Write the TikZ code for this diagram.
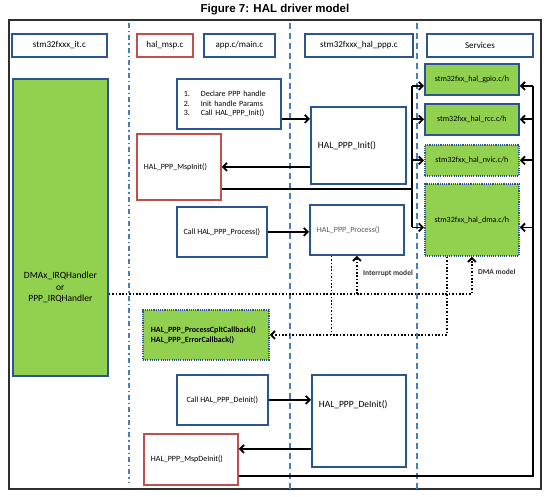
\documentclass[tikz,border=0pt]{standalone}
\usepackage{fontspec}
\setmainfont{Carlito}
\newfontfamily\titlefont{Liberation Sans}
\usetikzlibrary{arrows.meta,calc}
\definecolor{grn}{HTML}{92D050}
\definecolor{bblue}{HTML}{2A5592}
\definecolor{rred}{HTML}{C0504D}
\definecolor{lblue}{HTML}{4A7EBB}
\definecolor{framec}{HTML}{303030}
\begin{document}
\begin{tikzpicture}[x=1pt,y=-1pt,
 box/.style={draw=bblue,line width=1.8pt,anchor=north west,inner sep=0pt,align=center,font=\fontsize{8}{9.7}\selectfont},
 hdr/.style={box,minimum height=23pt,font=\fontsize{9}{10}\selectfont},
 redbox/.style={box,draw=rred},
 gbox/.style={box,fill=grn},
 gdot/.style={gbox,dash pattern=on 1.1pt off 1.1pt},
 lt/.style={align=left,inner xsep=7pt},
 arr/.style={line width=1.8pt,-{Straight Barb[length=4pt,width=8pt]}},
 ln/.style={line width=1.8pt},
 dotl/.style={line width=1.8pt,dash pattern=on 1.6pt off 1.8pt},
 dotarr/.style={dotl,-{Straight Barb[length=4pt,width=8pt]}},
 lane/.style={draw=lblue,line width=1.7pt,dash pattern=on 6pt off 4pt},
 lanedd/.style={draw=lblue,line width=1.7pt,dash pattern=on 5pt off 3pt on 1.4pt off 3pt},
 lbl/.style={font=\fontsize{7.5}{9}\selectfont\bfseries,text=black!80,inner sep=0pt}
]
\useasboundingbox (0,0) rectangle (554,497);
\node[font=\titlefont\bfseries\fontsize{11.5}{13}\selectfont] (title) at (275,10) {Figure 7: HAL driver model};
\draw[framec,line width=1.4pt] (9,20) rectangle (541,489);
% swim lanes
\draw[lanedd] (129,23) -- (129,482);
\draw[lane] (290,23) -- (290,489);
\draw[lane] (417,23) -- (417,489);
% headers
\node[hdr,minimum width=95pt] (hit) at (11,33) {stm32fxxx\_it.c};
\node[hdr,draw=rred,minimum width=56pt] (hmsp) at (136,33) {hal\_msp.c};
\node[hdr,minimum width=71pt] (happ) at (203,33) {app.c/main.c};
\node[hdr,minimum width=108pt] (hppp) at (304,33) {stm32fxxx\_hal\_ppp.c};
\node[hdr,minimum width=106pt] (hsrv) at (426,33) {Services};
% big IRQ box
\node[gbox,minimum width=95pt,minimum height=297pt,
  label={[font=\fontsize{9.5}{11.5}\selectfont,align=center,yshift=-60pt]center:DMAx\_IRQHandler\\or\\PPP\_IRQHandler}] (irq) at (12,78) {};
% app column
\node[box,lt,text width=90pt,minimum height=50pt] (decl) at (176,78)
 {\makebox[17pt][l]{1.}Declare PPP handle\\\makebox[17pt][l]{2.}Init handle Params\\\makebox[17pt][l]{3.}Call HAL\_PPP\_Init()};
\node[redbox,lt,text width=70pt,minimum height=66pt] (mspinit) at (136,133) {HAL\_PPP\_MspInit()};
\node[box,lt,text width=81pt,minimum height=77pt,font=\fontsize{9.5}{11}\selectfont] (init) at (310,106) {HAL\_PPP\_Init()};
\node[box,minimum width=90pt,minimum height=50pt] (callproc) at (176,206) {Call HAL\_PPP\_Process()};
\node[box,lt,text width=80pt,minimum height=50pt,text=black!65] (proc) at (309,204) {HAL\_PPP\_Process()};
\node[gdot,lt,inner xsep=8pt,text width=110pt,minimum height=50pt,font=\fontsize{8}{9.5}\selectfont\bfseries] (cb) at (142,309)
 {HAL\_PPP\_ProcessCpltCallback()\\HAL\_PPP\_ErrorCallback()};
\node[box,minimum width=91pt,minimum height=50pt] (calldeinit) at (176,374) {Call HAL\_PPP\_DeInit()};
\node[box,lt,text width=80pt,inner ysep=0pt,text height=33pt,text depth=59pt,font=\fontsize{9.5}{11}\selectfont] (deinit) at (311,374) {HAL\_PPP\_DeInit()};
\node[redbox,lt,text width=80pt,minimum height=51pt] (mspdeinit) at (143,433) {HAL\_PPP\_MspDeInit()};
% services
\node[gbox,minimum width=94pt,minimum height=31pt] (gpio) at (424,63) {stm32fxx\_hal\_gpio.c/h};
\node[gbox,minimum width=94pt,minimum height=31pt] (rcc) at (424,103) {stm32fxx\_hal\_rcc.c/h};
\node[gdot,minimum width=94pt,minimum height=31pt] (nvic) at (424,144) {stm32fxx\_hal\_nvic.c/h};
\node[gdot,minimum width=94pt,minimum height=72pt] (dma) at (424,183) {stm32fxx\_hal\_dma.c/h};
% bus coordinates
\coordinate (busL) at (412,0);
\coordinate (busR) at (533,0);
\coordinate (ga) at ([yshift=-6.5pt]gpio.west);
\coordinate (ra) at (rcc.west);
\coordinate (na) at (nvic.west);
\coordinate (da) at ([yshift=-7.5pt]dma.west);
% init sequence
\draw[arr] ([yshift=-15pt]decl.east) coordinate (d1) -- (d1 -| init.west);
\draw[arr] (init.west |- mspinit.east) -- (mspinit.east);
\draw[ln] ([yshift=-22pt]mspinit.east) coordinate (m1) -- (m1 -| busL);
\draw[ln] (ga -| busL) -- (da -| busL);
\foreach \c/\n in {ga/gpio,ra/rcc,na/nvic,da/dma} {
  \draw[arr] (\c -| busL) -- (\c);
  \draw[arr] (\c -| busR) -- (\c -| \n.east);
}
% deinit loop to services
\draw[ln] ([yshift=-16.5pt]mspdeinit.east) coordinate (md) -- (md -| busR) -- (ga -| busR);
% process
\draw[arr] (callproc.east) -- (callproc.east -| proc.west);
\draw[dotarr] ([yshift=-66.5pt]irq.east) coordinate (b1) -- (b1 -| dma.south) -- (dma.south);
\draw[dotarr] (b1 -| proc.south) -- (proc.south);
\draw[dotl] ([xshift=-25.5pt]proc.south) coordinate (p2) -- (p2 |- cb.east);
\draw[dotarr] ([xshift=-25pt]dma.south) coordinate (d2) -- (d2 |- cb.east) -- (cb.east);
\node[lbl,anchor=west] (intl) at (363,273) {Interrupt model};
\node[lbl,anchor=west] (dmal) at (478,272) {DMA model};
% deinit
\draw[arr] (calldeinit.east) -- (calldeinit.east -| deinit.west);
\coordinate (m3) at ([yshift=10.5pt]mspdeinit.east);
\draw[arr] (deinit.west |- m3) -- (m3);
\end{tikzpicture}
\end{document}
